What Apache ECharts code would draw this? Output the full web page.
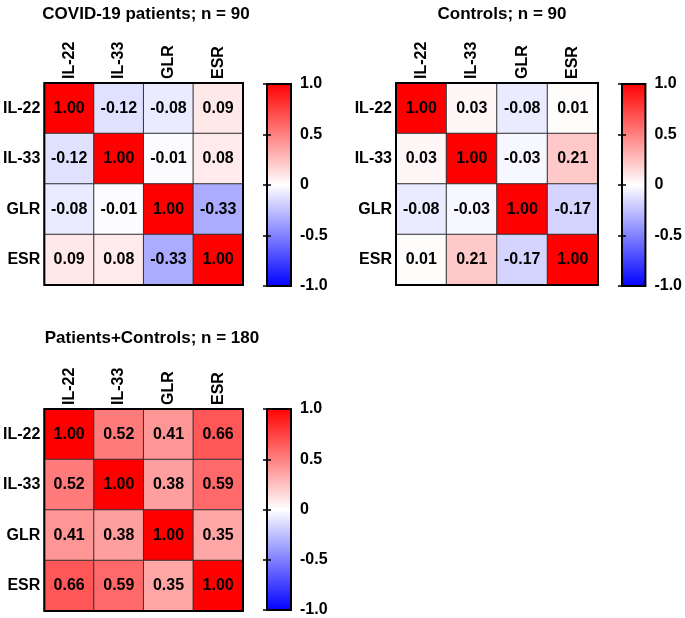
<!DOCTYPE html>
<html>
<head>
<meta charset="utf-8">
<script src="https://cdn.jsdelivr.net/npm/echarts@6/dist/echarts.min.js"></script>
<style>
  html, body { margin: 0; padding: 0; background: #fff; }
  #main { width: 685px; height: 618px; }
</style>
</head>
<body>
<div id="main"></div>
<script>
// variables shown on both axes
const vars = ['IL-22', 'IL-33', 'GLR', 'ESR'];

// correlation matrices (rows follow vars)
const patients = [
  [1.00, -0.12, -0.08, 0.09],
  [-0.12, 1.00, -0.01, 0.08],
  [-0.08, -0.01, 1.00, -0.33],
  [0.09, 0.08, -0.33, 1.00]
];
const controls = [
  [1.00, 0.03, -0.08, 0.01],
  [0.03, 1.00, -0.03, 0.21],
  [-0.08, -0.03, 1.00, -0.17],
  [0.01, 0.21, -0.17, 1.00]
];
const combined = [
  [1.00, 0.52, 0.41, 0.66],
  [0.52, 1.00, 0.38, 0.59],
  [0.41, 0.38, 1.00, 0.35],
  [0.66, 0.59, 0.35, 1.00]
];

const titles = ['COVID-19 patients; n = 90', 'Controls; n = 90', 'Patients+Controls; n = 180'];
const scaleTicks = [-1, -0.5, 0, 0.5, 1];
const colors = ['#0000ff', '#ffffff', '#ff0000'];

const font = 'Liberation Sans, Arial, sans-serif';
const chart = echarts.init(document.getElementById('main'));

// panel placement: heatmap box, colour bar box, title centre
const panels = [
  { data: patients, grid: [40, 83, 203, 202], bar: [267, 84, 24, 202], title: [141, 1] },
  { data: controls, grid: [396, 83, 202, 202], bar: [622, 84, 24, 202], title: [497, 1] },
  { data: combined, grid: [40, 409, 203, 202], bar: [267, 409, 24, 202], title: [147, 325] }
];

const toCells = m => {
  const out = [];
  m.forEach((row, i) => row.forEach((v, j) => out.push([j, i, v])));
  return out;
};

const grid = [], xAxis = [], yAxis = [], series = [], title = [];

panels.forEach((p, k) => {
  title.push({
    text: titles[k], left: p.title[0], top: p.title[1], textAlign: 'center',
    textStyle: { fontFamily: font, fontSize: 17, fontWeight: 'bold', color: '#000' }
  });

  // heatmap grid
  grid.push({
    left: p.grid[0], top: p.grid[1], width: p.grid[2], height: p.grid[3],
    show: true, z: 5, backgroundColor: 'transparent', borderColor: '#000', borderWidth: 2
  });
  const gi = grid.length - 1;
  xAxis.push({
    type: 'category', data: vars, gridIndex: gi, position: 'top',
    axisLine: { show: false }, axisTick: { show: false }, splitLine: { show: false },
    axisLabel: { rotate: -90, margin: 4, fontFamily: font, fontSize: 16, fontWeight: 'bold', color: '#000' }
  });
  yAxis.push({
    type: 'category', data: vars, gridIndex: gi, inverse: true,
    axisLine: { show: false }, axisTick: { show: false }, splitLine: { show: false },
    axisLabel: { margin: 4, fontFamily: font, fontSize: 16, fontWeight: 'bold', color: '#000' }
  });
  series.push({
    type: 'heatmap', xAxisIndex: xAxis.length - 1, yAxisIndex: yAxis.length - 1,
    data: toCells(p.data),
    itemStyle: { borderColor: '#333', borderWidth: 1 },
    label: {
      show: true, formatter: d => d.value[2].toFixed(2),
      fontFamily: font, fontSize: 16, fontWeight: 'bold', color: '#000'
    },
    emphasis: { disabled: true }
  });

  // colour bar grid with its own value axis
  grid.push({
    left: p.bar[0], top: p.bar[1], width: p.bar[2], height: p.bar[3],
    show: true, z: 5, borderColor: '#000', borderWidth: 2,
    backgroundColor: new echarts.graphic.LinearGradient(0, 0, 0, 1, [
      { offset: 0, color: colors[2] },
      { offset: 0.5, color: colors[1] },
      { offset: 1, color: colors[0] }
    ])
  });
  const bi = grid.length - 1;
  xAxis.push({ type: 'value', gridIndex: bi, show: false, min: 0, max: 1 });
  const tickAxis = pos => ({
    type: 'value', gridIndex: bi, position: pos, min: -1, max: 1, interval: 0.5,
    axisLine: { show: false }, splitLine: { show: false },
    axisTick: { show: true, inside: true, length: 4, lineStyle: { color: '#000', width: 1.5 } },
    axisLabel: {
      show: pos === 'right', margin: 9,
      formatter: v => (v === 0 ? '0' : v.toFixed(1)),
      fontFamily: font, fontSize: 16, fontWeight: 'bold', color: '#000'
    },
    z: 6
  });
  yAxis.push(tickAxis('right'));
  yAxis.push(tickAxis('left'));
});

chart.setOption({
  backgroundColor: '#fff',
  animation: false,
  title: title,
  grid: grid,
  xAxis: xAxis,
  yAxis: yAxis,
  visualMap: {
    show: false, type: 'continuous', min: scaleTicks[0], max: scaleTicks[scaleTicks.length - 1],
    seriesIndex: [0, 1, 2], dimension: 2,
    inRange: { color: colors }
  },
  series: series
});
</script>
</body>
</html>
